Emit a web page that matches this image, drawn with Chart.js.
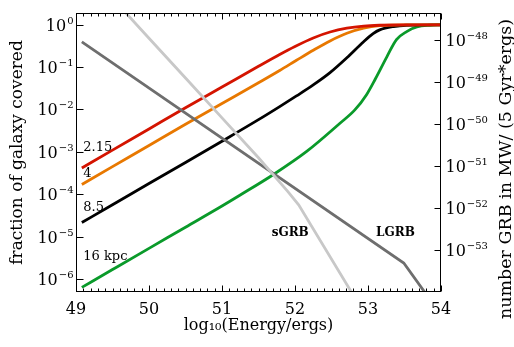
<!DOCTYPE html>
<html>
<head>
<meta charset="utf-8">
<script src="https://cdn.jsdelivr.net/npm/chart.js@4/dist/chart.umd.min.js"></script>
<style>
  html, body { margin: 0; padding: 0; background: #fff; }
  canvas { display: block; }
</style>
</head>
<body>
<canvas id="chart" width="514" height="347"></canvas>
<script>
// Covering fraction vs log10(E/erg), one curve per galactocentric radius
const energy215 = [49.08, 49.5, 50.0, 50.5, 51.0, 51.5, 51.79, 52.0, 52.25, 52.48, 52.71, 52.94, 53.16, 53.5, 54.0];
const frac215 = [4.17e-4, 1.10e-3, 3.47e-3, 1.10e-2, 3.39e-2, 0.105, 0.200, 0.309, 0.490, 0.676, 0.832, 0.933, 0.977, 1, 1];

const energy4 = [49.08, 49.5, 50.0, 50.5, 51.0, 51.5, 51.79, 52.02, 52.25, 52.48, 52.71, 52.94, 53.16, 53.5, 54.0];
const frac4 = [1.70e-4, 4.47e-4, 1.41e-3, 4.47e-3, 1.38e-2, 4.27e-2, 8.32e-2, 0.145, 0.251, 0.417, 0.631, 0.832, 0.955, 1, 1];

const energy85 = [49.08, 49.5, 50.0, 50.5, 51.0, 51.5, 51.79, 52.02, 52.25, 52.48, 52.71, 52.94, 53.07, 53.16, 53.35, 53.53, 54.0];
const frac85 = [2.14e-5, 5.62e-5, 1.78e-4, 5.62e-4, 1.78e-3, 5.75e-3, 1.17e-2, 2.09e-2, 3.80e-2, 7.41e-2, 0.166, 0.398, 0.617, 0.759, 0.912, 0.977, 1];

const energy16 = [49.08, 49.5, 50.0, 50.5, 51.0, 51.25, 51.7, 52.16, 52.62, 52.82, 52.98, 53.1, 53.26, 53.39, 53.53, 53.67, 53.85, 54.0];
const frac16 = [6.31e-7, 1.66e-6, 5.25e-6, 1.66e-5, 5.25e-5, 9.55e-5, 2.88e-4, 1.02e-3, 4.79e-3, 9.77e-3, 2.24e-2, 5.25e-2, 0.178, 0.447, 0.692, 0.891, 0.977, 1];

// GRB rates (right axis)
const energyLong = [49.08, 53.49, 53.8];
const rateLong = [9.12e-49, 4.90e-54, 8.71e-55];

const energyShort = [49.1, 49.5, 50.0, 50.5, 51.0, 51.5, 51.9, 52.05, 52.8];
const rateShort = [5.75e-47, 1.0e-47, 1.12e-48, 1.26e-49, 1.41e-50, 1.58e-51, 2.51e-52, 1.20e-52, 8.32e-55];

// axes
const xTicks = [49, 50, 51, 52, 53, 54];
const leftTicks = [1e-6, 1e-5, 1e-4, 1e-3, 1e-2, 1e-1, 1];
const leftExp = ['\u22126', '\u22125', '\u22124', '\u22123', '\u22122', '\u22121', '0'];
const rightTicks = [1e-53, 1e-52, 1e-51, 1e-50, 1e-49, 1e-48];
const rightExp = ['\u221253', '\u221252', '\u221251', '\u221250', '\u221249', '\u221248'];
const leftMin = 4.9e-7, leftMax = 1.9;
const rightMin = 1.29e-54, rightMax = 4.47e-48;

// text labels inside the plot, placed in data units (left axis)
const notes = [
    { text: '2.15', x: 49.1, y: 1.24e-3 },
    { text: '4', x: 49.1, y: 3.0e-4 },
    { text: '8.5', x: 49.1, y: 4.8e-5 },
    { text: '16 kpc', x: 49.1, y: 3.4e-6 },
    { text: 'sGRB', x: 51.68, y: 1.2e-5, bold: true },
    { text: 'LGRB', x: 53.11, y: 1.2e-5, bold: true }
];

const SERIF = '"DejaVu Serif", "Liberation Serif", serif';

function pts(xs, ys) {
    return xs.map((x, i) => ({ x: x, y: ys[i] }));
}

function curve(xs, ys, color, axis, smooth) {
    return {
        data: pts(xs, ys),
        borderColor: color,
        borderWidth: 2.8,
        pointRadius: 0,
        fill: false,
        yAxisID: axis,
        cubicInterpolationMode: smooth ? 'monotone' : 'default',
        tension: 0
    };
}

/**
 * Draw "10" with a raised exponent
 */
function drawPow(ctx, exp, x, y, align) {
    ctx.font = '16px ' + SERIF;
    const w1 = ctx.measureText('10').width;
    ctx.font = '10px ' + SERIF;
    const w2 = ctx.measureText(exp).width;
    const x0 = align === 'right' ? x - w1 - 1 - w2 : x;
    ctx.font = '16px ' + SERIF;
    ctx.fillText('10', x0, y + 6);
    ctx.font = '10px ' + SERIF;
    ctx.fillText(exp, x0 + w1 + 1, y - 1);
}

// box, inward ticks and the text the axes can't do themselves
const framePlugin = {
    id: 'frame',
    afterDraw(chart) {
        const { ctx, chartArea: a, scales } = chart;
        ctx.save();
        ctx.strokeStyle = '#000';
        ctx.lineWidth = 1;
        const L = Math.round(a.left) + 0.5, R = Math.round(a.right) - 0.5;
        const T = Math.round(a.top) + 0.5, B = Math.round(a.bottom) - 0.5;
        ctx.strokeRect(L, T, R - L, B - T);

        ctx.beginPath();
        for (let i = 0; i <= 50; i++) {
            const px = Math.round(scales.x.getPixelForValue(49 + i / 10)) + 0.5;
            const len = i % 10 === 0 ? 6 : 3;
            ctx.moveTo(px, B); ctx.lineTo(px, B - len);
            ctx.moveTo(px, T); ctx.lineTo(px, T + len);
        }
        leftTicks.forEach(v => {
            const py = Math.round(scales.y.getPixelForValue(v)) + 0.5;
            ctx.moveTo(L, py); ctx.lineTo(L + 7, py);
        });
        rightTicks.forEach(v => {
            const py = Math.round(scales.y2.getPixelForValue(v)) + 0.5;
            ctx.moveTo(R, py); ctx.lineTo(R - 6, py);
        });
        ctx.stroke();

        // tick labels with superscripts
        ctx.fillStyle = '#000';
        ctx.textAlign = 'left';
        ctx.textBaseline = 'alphabetic';
        leftTicks.forEach((v, i) => {
            drawPow(ctx, leftExp[i], L - 3, scales.y.getPixelForValue(v), 'right');
        });
        rightTicks.forEach((v, i) => {
            drawPow(ctx, rightExp[i], R + 5, scales.y2.getPixelForValue(v), 'left');
        });

        // right axis title reads bottom to top
        ctx.save();
        ctx.translate(506, 169);
        ctx.rotate(-Math.PI / 2);
        ctx.textAlign = 'center';
        ctx.textBaseline = 'middle';
        ctx.font = '17.5px ' + SERIF;
        ctx.fillText('number GRB in MW/ (5 Gyr*ergs)', 0, 0);
        ctx.restore();

        // labels inside the plot
        ctx.textBaseline = 'middle';
        notes.forEach(n => {
            ctx.font = (n.bold ? 'bold 12px ' : '13px ') + SERIF;
            ctx.fillText(n.text, scales.x.getPixelForValue(n.x), scales.y.getPixelForValue(n.y));
        });
        ctx.restore();
    }
};

new Chart(document.getElementById('chart'), {
    type: 'line',
    data: {
        datasets: [
            curve(energyShort, rateShort, '#c8c8c8', 'y2', false),
            curve(energyLong, rateLong, '#6e6e6e', 'y2', false),
            curve(energy215, frac215, '#d41400', 'y', true),
            curve(energy4, frac4, '#e87800', 'y', true),
            curve(energy85, frac85, '#000000', 'y', true),
            curve(energy16, frac16, '#0a9a2a', 'y', true)
        ]
    },
    options: {
        responsive: false,
        animation: false,
        layout: { padding: { top: 13, left: 0, right: 0, bottom: 0 } },
        plugins: {
            legend: { display: false },
            tooltip: { enabled: false }
        },
        scales: {
            x: {
                type: 'linear',
                position: 'bottom',
                min: 49,
                max: 54,
                afterBuildTicks: s => { s.ticks = xTicks.map(v => ({ value: v })); },
                afterFit: s => { s.height = 55; },
                grid: { display: false, drawTicks: false },
                border: { display: false },
                ticks: {
                    color: '#000',
                    padding: 8,
                    maxRotation: 0,
                    font: { family: SERIF, size: 16 }
                },
                title: {
                    display: true,
                    text: 'log\u2081\u2080(Energy/ergs)',
                    color: '#000',
                    font: { family: SERIF, size: 16 },
                    padding: { top: 0, bottom: 12 }
                }
            },
            y: {
                type: 'logarithmic',
                position: 'left',
                min: leftMin,
                max: leftMax,
                afterFit: s => { s.width = 76; },
                grid: { display: false, drawTicks: false },
                border: { display: false },
                ticks: { display: false },
                title: {
                    display: true,
                    text: 'fraction of galaxy covered',
                    color: '#000',
                    font: { family: SERIF, size: 17 },
                    padding: { top: 7, bottom: 0 }
                }
            },
            y2: {
                type: 'logarithmic',
                position: 'right',
                min: rightMin,
                max: rightMax,
                afterFit: s => { s.width = 73; },
                grid: { display: false, drawTicks: false },
                border: { display: false },
                ticks: { display: false }
            }
        }
    },
    plugins: [framePlugin]
});
</script>
</body>
</html>
